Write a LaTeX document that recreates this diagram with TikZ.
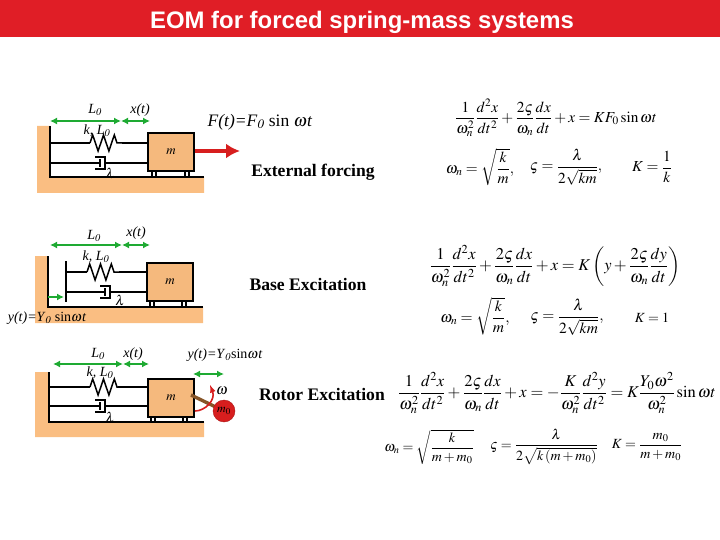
\documentclass[tikz,border=0pt]{standalone}
\usepackage{amsmath}
\usepackage{mathptmx}
\usepackage{fontspec}
\setmainfont{Liberation Serif}
\newfontfamily\headfont{Liberation Sans}
\usetikzlibrary{calc}
\usetikzlibrary{arrows.meta}
\usetikzlibrary{decorations.pathmorphing}
\definecolor{headred}{RGB}{224,30,38}
\definecolor{basetan}{RGB}{250,190,130}
\definecolor{masstan}{RGB}{245,185,125}
\definecolor{dimgreen}{RGB}{30,170,50}
\definecolor{rodbrown}{RGB}{135,85,40}
\definecolor{rotorred}{RGB}{215,30,30}
\tikzset{
    linkline/.style={black,line width=1.5pt},
    coil/.style={linkline,decorate,decoration={zigzag,segment length=10.8pt,amplitude=8pt}},
    massbox/.style={draw=black,line width=1.6pt,fill=masstan,minimum width=46pt,minimum height=38pt,inner sep=0pt,font=\fontsize{13}{15}\selectfont},
    dimarrow/.style={dimgreen,{Latex[length=7pt,width=7pt]}-{Latex[length=7pt,width=7pt]},line width=1.8pt},
    lbl/.style={inner sep=0pt,font=\fontsize{14}{16}\selectfont},
    casename/.style={inner sep=0pt,font=\fontsize{17.6}{20}\selectfont\bfseries},
    eqn/.style={inner sep=0pt,font=\fontsize{#1}{#1}\selectfont},
}
% cup of the damper, #1 closed end, #2 middle height
\newcommand\dashpot[2]{
    \draw[linkline] (#1-10,#2-6) -- (#1,#2-6) -- (#1,#2+6) -- (#1-10,#2+6);
    \draw[line width=2.4pt] (#1-5,#2-4) -- (#1-5,#2+4);
}
\newcommand\lenlabel{\textit{L}$_{\mathit{0}}$}
\begin{document}
\begin{tikzpicture}[x=1pt,y=-1pt]
    \useasboundingbox (0,0) rectangle (720,540);
    \fill[headred] (0,0) rectangle (720,37);
    \node[inner sep=0pt,white,font=\headfont\bfseries\fontsize{23.9}{26}\selectfont] (title) at (362,22) {EOM for forced spring-mass systems};

    % external forcing
    \fill[basetan] (37,126) -- (50,126) -- (50,177) -- (204,177) -- (204,193) -- (37,193) -- cycle;
    \draw[linkline] (50,126) -- (50,177) -- (204,177);
    \foreach \x in {154,187}{
        \draw[linkline] (\x-2,171) -- (\x-2,177);
        \draw[linkline] (\x+2,171) -- (\x+2,177);
    }
    \node[massbox] (massA) at (171,152) {$m$};
    \draw[linkline] (50,143) -- (90,143);
    \draw[coil] (90,143) -- (122,143);
    \draw[linkline] (122,143) -- (massA.west |- 0,143);
    \draw[linkline] (50,163) -- (100,163);
    \dashpot{105}{163}
    \draw[linkline] (105,163) -- (massA.west |- 0,163);
    \coordinate (wallA) at (50,121);
    \coordinate (restA) at (121,121);
    \coordinate (endA) at (150,121);
    \draw[dimarrow] (wallA) -- (restA);
    \draw[dimarrow] (restA) -- (endA);
    \node[lbl] (lenA) at (95,110) {\lenlabel};
    \node[lbl] (xA) at (140,110) {\textit{x(t)}};
    \node[lbl] (kA) at (97,131) {\textit{k,} \lenlabel};
    \node[lbl] (lamA) at (110,173) {$\lambda$};
    \coordinate (forceA) at (240,151);
    \draw[rotorred,-{Latex[length=14pt,width=15pt]},line width=3.6pt] (massA.east |- forceA) -- (forceA);
    \node[inner sep=0pt,font=\fontsize{17.5}{20}\selectfont] (forceTxt) at (260,122) {\textit{F(t)=F}$_{\mathit{0}}$ sin $\omega$\textit{t}};
    \node[casename] (caseA) at (313,172) {External forcing};

    \node[eqn=15.3] (eqA) at (556,118) {$\dfrac{1}{\omega_n^2}\dfrac{d^2x}{dt^2}+\dfrac{2\varsigma}{\omega_n}\dfrac{dx}{dt}+x=KF_0\sin\omega t$};
    \node[eqn=15.3] (eqAn) at (480,167) {$\omega_n=\sqrt{\dfrac{k}{m}},$};
    \node[eqn=15.3] (eqAz) at (566,167) {$\varsigma=\dfrac{\lambda}{2\sqrt{km}},$};
    \node[eqn=15.3] (eqAk) at (652,167) {$K=\dfrac{1}{k}$};

    % base excitation
    \fill[basetan] (35,256) -- (48,256) -- (48,307) -- (203,307) -- (203,323) -- (35,323) -- cycle;
    \draw[linkline] (48,256) -- (48,307) -- (203,307);
    \foreach \x in {152,184}{
        \draw[linkline] (\x-2,302) -- (\x-2,307);
        \draw[linkline] (\x+2,302) -- (\x+2,307);
    }
    \node[massbox] (massB) at (170,282) {$m$};
    \draw[linkline] (66,261) -- (66,302);
    \draw[linkline] (66,272) -- (87,272);
    \draw[coil] (87,272) -- (119,272);
    \draw[linkline] (119,272) -- (massB.west |- 0,272);
    \draw[linkline] (66,292) -- (105,292);
    \dashpot{110}{292}
    \draw[linkline] (110,292) -- (massB.west |- 0,292);
    \coordinate (wallB) at (50,245);
    \coordinate (restB) at (122,245);
    \coordinate (endB) at (150,245);
    \draw[dimarrow] (wallB) -- (restB);
    \draw[dimarrow] (restB) -- (endB);
    \draw[dimgreen,-{Latex[length=7pt,width=7pt]},line width=1.8pt] (48,297) -- (64,297);
    \node[lbl] (lenB) at (94,236) {\lenlabel};
    \node[lbl] (xB) at (136,233) {\textit{x(t)}};
    \node[lbl] (kB) at (96,257) {\textit{k,} \lenlabel};
    \node[lbl] (lamB) at (120,300) {$\lambda$};
    \node[lbl] (baseTxt) at (47,318) {\textit{y(t)=Y}$_{\mathit{0}}$ sin$\omega$\textit{t}};
    \node[casename] (caseB) at (308,284) {Base Excitation};

    \node[eqn=16.5] (eqB) at (555,266) {$\dfrac{1}{\omega_n^2}\dfrac{d^2x}{dt^2}+\dfrac{2\varsigma}{\omega_n}\dfrac{dx}{dt}+x=K\left(y+\dfrac{2\varsigma}{\omega_n}\dfrac{dy}{dt}\right)$};
    \node[eqn=15.5] (eqBn) at (475,316) {$\omega_n=\sqrt{\dfrac{k}{m}},$};
    \node[eqn=15.5] (eqBz) at (567,317) {$\varsigma=\dfrac{\lambda}{2\sqrt{km}},$};
    \node[eqn=14] (eqBk) at (652,318) {$K=1$};

    % rotor excitation
    \fill[basetan] (35,372) -- (49,372) -- (49,422) -- (204,422) -- (204,437) -- (35,437) -- cycle;
    \draw[linkline] (49,372) -- (49,422) -- (204,422);
    \foreach \x in {153,185}{
        \draw[linkline] (\x-2,417) -- (\x-2,422);
        \draw[linkline] (\x+2,417) -- (\x+2,422);
    }
    \node[massbox] (massC) at (171,398) {$m$};
    \draw[linkline] (49,387) -- (90,387);
    \draw[coil] (90,387) -- (118,387);
    \draw[linkline] (118,387) -- (massC.west |- 0,387);
    \draw[linkline] (49,406) -- (100,406);
    \dashpot{105}{406}
    \draw[linkline] (105,406) -- (massC.west |- 0,406);
    \coordinate (wallC) at (53,364);
    \coordinate (restC) at (123,364);
    \coordinate (endC) at (149,364);
    \coordinate (swingL) at (193,374);
    \coordinate (swingR) at (224,374);
    \draw[dimarrow] (wallC) -- (restC);
    \draw[dimarrow] (restC) -- (endC);
    \draw[dimarrow] (swingL) -- (swingR);
    \coordinate (rotorHub) at (224,411);
    \draw[rodbrown,line width=3.4pt] (191,395) -- (rotorHub);
    \node[circle,fill=rotorred,draw=rotorred!80!black,minimum size=22pt,inner sep=0pt,font=\fontsize{12}{14}\selectfont] (rotor) at (rotorHub) {$m_0$};
    \draw[rotorred,-latex,line width=1.6pt] (195,411) .. controls (205,411) and (216,400) .. (210,385);
    \node[lbl] (lenC) at (98,354) {\lenlabel};
    \node[lbl] (xC) at (133,354) {\textit{x(t)}};
    \node[lbl] (yC) at (225,355) {\textit{y(t)=Y}$_{\mathit{0}}$sin$\omega$\textit{t}};
    \node[lbl] (kC) at (100,373) {\textit{k,} \lenlabel};
    \node[lbl] (lamC) at (110,417) {$\lambda$};
    \node[lbl,font=\fontsize{15}{17}\selectfont] (omegaC) at (222,391) {$\boldsymbol{\omega}$};
    \node[casename] (caseC) at (322,394) {Rotor Excitation};

    \node[eqn=16.5] (eqC) at (557,393) {$\dfrac{1}{\omega_n^2}\dfrac{d^2x}{dt^2}+\dfrac{2\varsigma}{\omega_n}\dfrac{dx}{dt}+x=-\dfrac{K}{\omega_n^2}\dfrac{d^2y}{dt^2}=K\dfrac{Y_0\omega^2}{\omega_n^2}\sin\omega t$};
    \node[eqn=14] (eqCn) at (429,447) {$\omega_n=\sqrt{\dfrac{k}{m+m_0}}$};
    \node[eqn=14] (eqCz) at (544,447) {$\varsigma=\dfrac{\lambda}{2\sqrt{k\left(m+m_0\right)}}$};
    \node[eqn=14] (eqCk) at (647,447) {$K=\dfrac{m_0}{m+m_0}$};
\end{tikzpicture}
\end{document}
